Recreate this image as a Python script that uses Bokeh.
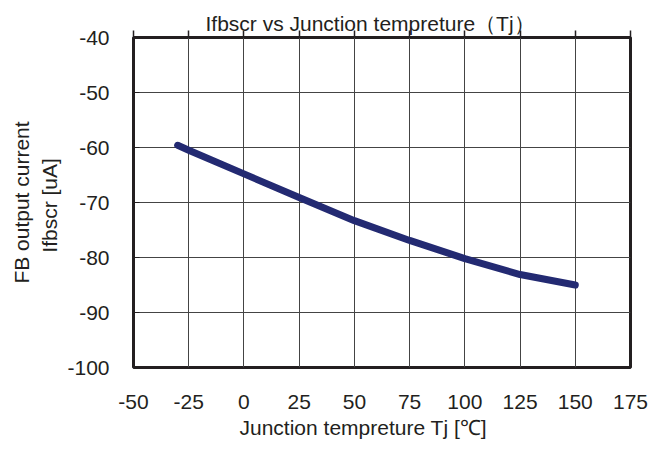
from bokeh.plotting import figure
from bokeh.models import LinearAxis, FixedTicker, Range1d, Title
from bokeh.embed import file_html
from bokeh.resources import INLINE

# data
tj = [-30, -25, 0, 25, 50, 75, 100, 125, 150]
ifbscr = [-59.6, -60.5, -64.8, -69.1, -73.3, -76.9, -80.2, -83.1, -85.0]
x_ticks = [-50, -25, 0, 25, 50, 75, 100, 125, 150, 175]
y_ticks = [-100, -90, -80, -70, -60, -50, -40]
title_text = "Ifbscr vs Junction tempreture（Tj）"
x_title = "Junction tempreture Tj [℃]"
y_title_1 = "FB output current"
y_title_2 = "Ifbscr  [uA]"

FONT = "Liberation Sans"
INK = "#231f20"
W, H = 651, 446

p = figure(width=W, height=H, output_backend="svg", toolbar_location=None,
           x_range=Range1d(-50, 175), y_range=Range1d(-100, -40),
           min_border_left=133, min_border_right=21, min_border_top=37, min_border_bottom=79)
p.background_fill_color = "white"
p.border_fill_color = "white"
p.outline_line_color = INK
p.outline_line_width = 3

bx = p.xaxis[0]
ly = p.yaxis[0]
for ax in (bx, ly):
    ax.axis_line_color = None
    ax.major_tick_line_color = INK
    ax.minor_tick_line_color = None
    ax.major_label_text_font = FONT
    ax.major_label_text_font_size = "21px"
    ax.major_label_text_color = INK
    ax.major_tick_out = 0
    ax.major_tick_in = 0
    ax.axis_label_text_font = FONT
    ax.axis_label_text_font_size = "21px"
    ax.axis_label_text_color = INK
    ax.axis_label_text_font_style = "normal"
bx.ticker = FixedTicker(ticks=x_ticks)
ly.ticker = FixedTicker(ticks=y_ticks)
bx.major_label_overrides = {t: str(t) for t in x_ticks}
ly.major_label_overrides = {t: str(t) for t in y_ticks}
bx.major_label_standoff = 27
ly.major_label_standoff = 24
ly.major_tick_in = 6
ly.axis_label = y_title_2
ly.axis_label_standoff = 3

ly2 = LinearAxis(ticker=FixedTicker(ticks=y_ticks),
                 major_label_overrides={t: "" for t in y_ticks},
                 axis_line_color=None, major_tick_line_color=None, minor_tick_line_color=None,
                 major_label_standoff=0, axis_label=y_title_1, axis_label_standoff=-3,
                 axis_label_text_font=FONT, axis_label_text_font_size="21px",
                 axis_label_text_color=INK, axis_label_text_font_style="normal")
p.add_layout(ly2, "left")

top = LinearAxis(ticker=FixedTicker(ticks=x_ticks),
                 major_label_overrides={t: "" for t in x_ticks},
                 axis_line_color=None, major_tick_out=7, major_tick_in=0,
                 major_tick_line_color=INK, major_tick_line_width=1.5,
                 minor_tick_line_color=None, major_label_standoff=0)
p.add_layout(top, "above")

p.title = Title(text=title_text, align="left", offset=72, standoff=-8,
                text_font=FONT, text_font_size="21px", text_font_style="normal",
                text_color=INK)
p.add_layout(Title(text=x_title, align="left", offset=106, standoff=5,
                   text_font=FONT, text_font_size="21px", text_font_style="normal",
                   text_color=INK), "below")

p.xgrid.ticker = FixedTicker(ticks=x_ticks)
p.ygrid.ticker = FixedTicker(ticks=y_ticks)
p.grid.grid_line_color = "#444444"
p.grid.grid_line_width = 1

p.line(tj, ifbscr, line_width=7, line_color="#232a72", line_cap="round", line_join="round")

open("out.html", "w").write(file_html(p, INLINE))
